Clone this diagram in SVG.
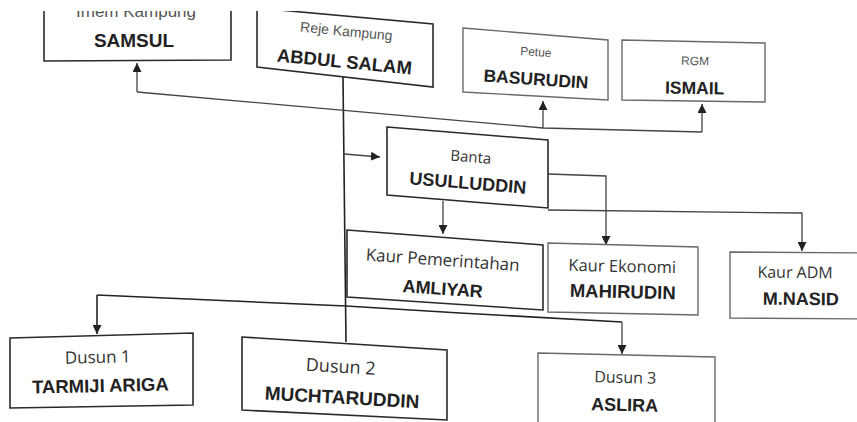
<svg xmlns="http://www.w3.org/2000/svg" width="857" height="422" viewBox="0 0 857 422">
<defs>
<style>
.bx{fill:#fff;stroke:#2a2a2a;stroke-width:1.6}
.bl{fill:#fff;stroke:#6a6a6a;stroke-width:1.4}
.cn{fill:none;stroke:#444;stroke-width:1.3}
.cd{fill:none;stroke:#222;stroke-width:1.6}
.sm{font-family:"Liberation Sans",Arial,sans-serif;fill:#555;text-anchor:middle}
.op{font-family:"Open Sans","Noto Sans",sans-serif;fill:#333;text-anchor:middle}
.nm{font-family:"Liberation Sans",Arial,sans-serif;font-weight:bold;fill:#222;text-anchor:middle}
</style>
<marker id="ar" markerUnits="userSpaceOnUse" markerWidth="9" markerHeight="9" refX="9" refY="4.5" orient="auto">
<path d="M0,0 L9,4.5 L0,9 Z" fill="#222"/>
</marker>
<clipPath id="cp"><rect x="0" y="11" width="857" height="411"/></clipPath>
</defs>
<rect x="0" y="0" width="857" height="422" fill="#fff"/>
<g clip-path="url(#cp)">
<g id="connectors">
<path class="cd" d="M343,77 L346,342"/>
<path class="cn" d="M137,92 L543,128 L702,132"/>
<path class="cn" d="M137,92 L137,63" marker-end="url(#ar)"/>
<path class="cn" d="M543,128 L543,101" marker-end="url(#ar)"/>
<path class="cn" d="M702,132 L702,104" marker-end="url(#ar)"/>
<path class="cn" d="M344,154 L380,157" marker-end="url(#ar)"/>
<path class="cn" d="M443,201 L443,234" marker-end="url(#ar)"/>
<path class="cn" d="M548,174 L606,176 L606,245" marker-end="url(#ar)"/>
<path class="cn" d="M548,210 L802,213 L802,251" marker-end="url(#ar)"/>
<path class="cd" d="M97,295 L346,306 L460,313 L622,322"/>
<path class="cd" d="M97,295 L97,334" marker-end="url(#ar)"/>
<path class="cn" d="M622,322 L622,354" marker-end="url(#ar)"/>
</g>
<g id="imem">
<polygon class="bx" points="44,-10 231,-10 231,60 44,61"/>
<text class="sm" x="136" y="17" font-size="17">Imem Kampung</text>
<text class="nm" x="134" y="47" font-size="19">SAMSUL</text>
</g>
<g id="reje">
<polygon class="bx" points="257,8 433,24 433,87 257,67"/>
<g transform="rotate(5.5 345 46)">
<text class="sm" x="345" y="36" font-size="14">Reje Kampung</text>
<text class="nm" x="346" y="68" font-size="18.5">ABDUL SALAM</text>
</g>
</g>
<g id="petue">
<polygon class="bl" points="463,28 608,40 608,100 463,92"/>
<g transform="rotate(4 535 65)">
<text class="sm" x="535" y="56" font-size="12">Petue</text>
<text class="nm" x="537" y="85" font-size="17.5">BASURUDIN</text>
</g>
</g>
<g id="rgm">
<polygon class="bl" points="622,40 765,43 765,102 622,100"/>
<g transform="rotate(1 693 71)">
<text class="sm" x="695" y="65" font-size="12">RGM</text>
<text class="nm" x="695" y="94" font-size="17.5">ISMAIL</text>
</g>
</g>
<g id="banta">
<polygon class="bx" points="387,127 548,140 548,208 387,195"/>
<g transform="rotate(4.6 468 168)">
<text class="op" x="470" y="162" font-size="15" fill="#555">Banta</text>
<text class="nm" x="469" y="189" font-size="18">USULLUDDIN</text>
</g>
</g>
<g id="kaur-pemerintahan">
<polygon class="bx" points="347,230 543,245 543,310 347,297"/>
<g transform="rotate(4 445 270)">
<text class="op" x="442" y="266" font-size="17">Kaur Pemerintahan</text>
<text class="nm" x="444" y="295" font-size="18">AMLIYAR</text>
</g>
</g>
<g id="kaur-ekonomi">
<polygon class="bl" points="548,243 698,247 698,315 548,312"/>
<g transform="rotate(1.3 623 280)">
<text class="op" x="622" y="272" font-size="16.5" fill="#555">Kaur Ekonomi</text>
<text class="nm" x="623" y="298" font-size="18.5">MAHIRUDIN</text>
</g>
</g>
<g id="kaur-adm">
<polygon class="bl" points="730,252 870,253 870,319 730,318"/>
<g transform="rotate(0.5 798 285)">
<text class="op" x="795" y="278" font-size="16" fill="#555">Kaur ADM</text>
<text class="nm" x="801" y="305" font-size="18">M.NASID</text>
</g>
</g>
<g id="dusun1">
<polygon class="bx" points="10,338 193,333 193,405 10,408"/>
<g transform="rotate(-1.3 101 370)">
<text class="op" x="98" y="363" font-size="17">Dusun 1</text>
<text class="nm" x="100" y="392" font-size="18.5">TARMIJI ARIGA</text>
</g>
</g>
<g id="dusun2">
<polygon class="bx" points="242,337 447,350 447,420 242,410"/>
<g transform="rotate(3.2 344 380)">
<text class="op" x="340" y="373" font-size="18">Dusun 2</text>
<text class="nm" x="343" y="404" font-size="19">MUCHTARUDDIN</text>
</g>
</g>
<g id="dusun3">
<polygon class="bl" points="538,353 715,357 715,430 538,430"/>
<g transform="rotate(1.3 625 390)">
<text class="op" x="625" y="383" font-size="16" fill="#555">Dusun 3</text>
<text class="nm" x="625" y="411" font-size="18">ASLIRA</text>
</g>
</g>
</g>
</svg>
